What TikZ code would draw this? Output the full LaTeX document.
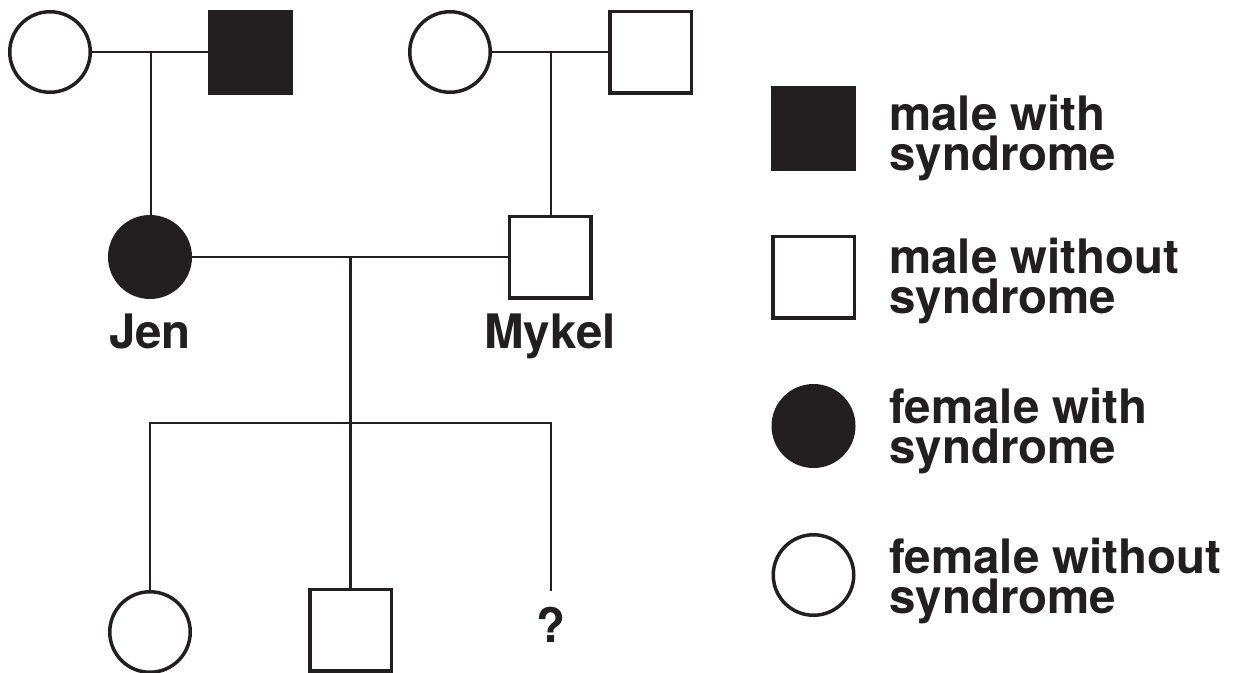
\documentclass[tikz,border=0pt]{standalone}
\usepackage{fontspec}
\setmainfont{TeX Gyre Heros}
\definecolor{ink}{HTML}{231F20}
\begin{document}
\begin{tikzpicture}[x=1pt,y=-1pt,
  fem/.style={circle, draw=ink, line width=3.5pt, minimum size=80.5pt, inner sep=0pt, fill=white},
  mal/.style={rectangle, draw=ink, line width=3.5pt, minimum size=81.5pt, inner sep=0pt, fill=white},
  aff/.style={fill=ink},
  link/.style={draw=ink, line width=2.5pt},
  lbl/.style={font=\bfseries\fontsize{47.5}{40}\selectfont, text=ink, inner sep=0pt},
  leg/.style={lbl, align=left, anchor=base west}]
\useasboundingbox (0,0) rectangle (1238,672);
\fill[white] (0,0) rectangle (1238,672);
% generation I
\node[fem] (gm1) at (50,52) {};
\node[mal,aff] (gf1) at (250.5,52) {};
\node[fem] (gm2) at (450,52) {};
\node[mal] (gf2) at (650.5,52) {};
% generation II
\node[fem,aff] (jen) at (150,257) {};
\node[mal] (mykel) at (550,257) {};
\node[lbl, anchor=base] (jenlbl) at (150,348) {Jen};
\node[lbl, anchor=base] (myklbl) at (550,348) {Mykel};
% generation III
\node[fem] (c1) at (150,632) {};
\node[mal] (c2) at (350.5,630) {};
\node[lbl, anchor=base] (c3) at (551,642) {?};
% couple lines
\coordinate (m1) at (151,52);
\coordinate (m2) at (551,52);
\coordinate (m3) at (350.5,257);
\coordinate (sl) at (150,423);
\coordinate (sm) at (350.5,423);
\coordinate (sr) at (551,423);
\coordinate (c3top) at (551,591);
\draw[link] (gm1.east) -- (gf1.west);
\draw[link] (gm2.east) -- (gf2.west);
\draw[link] (m1) -- (m1 |- jen.north);
\draw[link] (m2) -- (m2 |- mykel.north);
\draw[link] (jen.east) -- (mykel.west);
\draw[link] (m3) -- (sm);
\draw[link] (sl |- c1.north) -- (sl) -- (sr) -- (c3top);
\draw[link] (sm) -- (c2.north);
% legend
\node[mal,aff] (k1) at (813.5,128.5) {};
\node[mal] (k2) at (813.5,277) {};
\node[fem,aff] (k3) at (813.5,426) {};
\node[fem] (k4) at (813.5,575) {};
\node[leg] (t1) at (889,170) {male with\\syndrome};
\node[leg] (t2) at (889,313) {male without\\syndrome};
\node[leg] (t3) at (889,463) {female with\\syndrome};
\node[leg] (t4) at (889,613) {female without\\syndrome};
\end{tikzpicture}
\end{document}
